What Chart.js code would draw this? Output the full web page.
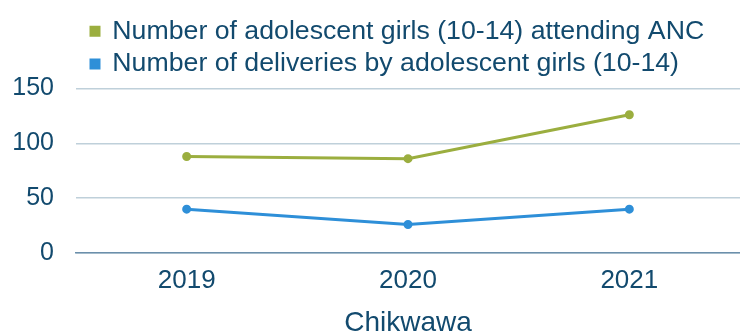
<!DOCTYPE html>
<html>
<head>
<meta charset="utf-8">
<script src="https://cdn.jsdelivr.net/npm/chart.js@4/dist/chart.umd.min.js"></script>
<style>
    html, body { margin: 0; padding: 0; background: #ffffff; }
    #wrap { width: 740px; height: 333px; position: relative; }
</style>
</head>
<body>
<div id="wrap"><canvas id="chart"></canvas></div>
<script>
// data
const years = ['2019', '2020', '2021'];
const ancAttendance = [88, 86, 126];
const deliveries = [40, 26, 40];
const yTicks = [0, 50, 100, 150];

const textColor = '#124a6e';
const fontFamily = "'Liberation Sans', Arial, sans-serif";

// legend: move it right and leave a gap below it
const legendTweak = {
    id: 'legendTweak',
    beforeUpdate(chart) {
        const lg = chart.legend;
        if (lg && !lg._patched) {
            const fit = lg.fit.bind(lg);
            lg.fit = function () { fit(); this.height += 1; };
            lg._patched = true;
        }
    },
    beforeDraw(chart) {
        const lg = chart.legend;
        if (lg) {
            const w = lg.right - lg.left;
            lg.left = 85;
            lg.right = lg.left + w;
        }
    }
};

new Chart(document.getElementById('chart'), {
    type: 'line',
    data: {
        labels: years,
        datasets: [
            {
                label: 'Number of adolescent girls (10-14) attending ANC',
                data: ancAttendance,
                borderColor: '#9bae3f',
                backgroundColor: '#9bae3f',
                borderWidth: 3,
                pointRadius: 3,
                pointHoverRadius: 3,
                tension: 0
            },
            {
                label: 'Number of deliveries by adolescent girls (10-14)',
                data: deliveries,
                borderColor: '#2e8fd8',
                backgroundColor: '#2e8fd8',
                borderWidth: 3,
                pointRadius: 3,
                pointHoverRadius: 3,
                tension: 0
            }
        ]
    },
    options: {
        responsive: true,
        maintainAspectRatio: false,
        animation: false,
        layout: { autoPadding: false, padding: { top: 12, left: 0, right: 0, bottom: 0 } },
        plugins: {
            tooltip: { enabled: false },
            legend: {
                position: 'top',
                align: 'start',
                labels: {
                    color: textColor,
                    font: { family: fontFamily, size: 26.7 },
                    boxWidth: 8,
                    boxHeight: 8,
                    usePointStyle: true,
                    pointStyle: 'rect',
                    padding: 6
                }
            }
        },
        scales: {
            x: {
                offset: true,
                afterFit(scale) { scale.paddingLeft = 0; scale.paddingRight = 0; },
                grid: { display: false, drawTicks: false },
                border: { display: true, color: '#6b8fab', width: 1.5 },
                ticks: {
                    color: textColor,
                    font: { family: fontFamily, size: 26, lineHeight: 0.69 },
                    padding: 19
                },
                title: {
                    display: true,
                    text: 'Chikwawa',
                    color: textColor,
                    font: { family: fontFamily, size: 28, lineHeight: 1 },
                    padding: { top: 0, bottom: -4 }
                }
            },
            y: {
                min: 0,
                max: 150,
                afterBuildTicks(scale) {
                    scale.ticks = yTicks.map(v => ({ value: v }));
                },
                afterFit(scale) { scale.width = 76; },
                grid: { color: '#bfd0da', lineWidth: 1.5, drawTicks: false },
                border: { display: false },
                ticks: {
                    color: textColor,
                    font: { family: fontFamily, size: 25 },
                    padding: 22
                }
            }
        }
    },
    plugins: [legendTweak]
});
</script>
</body>
</html>
